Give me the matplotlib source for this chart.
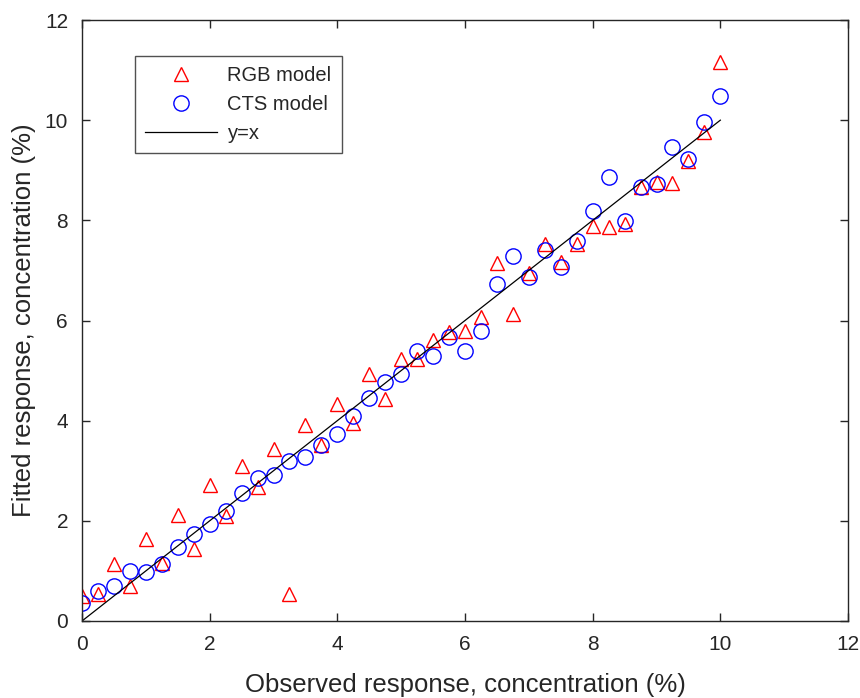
import numpy as np
import matplotlib
matplotlib.use("Agg")
import matplotlib.pyplot as plt

plt.rcParams['font.family'] = ['Liberation Sans', 'DejaVu Sans']

# observed concentrations (%)
observed = [0, 0.25, 0.5, 0.75, 1, 1.25, 1.5, 1.75, 2, 2.25,
            2.5, 2.75, 3, 3.25, 3.5, 3.75, 4, 4.25, 4.5, 4.75,
            5, 5.25, 5.5, 5.75, 6, 6.25, 6.5, 6.75, 7, 7.25,
            7.5, 7.75, 8, 8.25, 8.5, 8.75, 9, 9.25, 9.5, 9.75, 10]

# fitted values, RGB model
rgb_fit = [0.50, 0.54, 1.13, 0.70, 1.64, 1.15, 2.11, 1.43, 2.72, 2.09,
           3.09, 2.68, 3.44, 0.53, 3.91, 3.51, 4.33, 3.96, 4.93, 4.44,
           5.24, 5.24, 5.62, 5.77, 5.80, 6.07, 7.14, 6.13, 6.95, 7.53,
           7.16, 7.53, 7.88, 7.86, 7.92, 8.66, 8.76, 8.74, 9.18, 9.76, 11.17]

# fitted values, CTS model
cts_fit = [0.36, 0.60, 0.70, 0.99, 0.98, 1.13, 1.48, 1.73, 1.93, 2.20,
           2.56, 2.85, 2.91, 3.19, 3.28, 3.51, 3.74, 4.09, 4.45, 4.77,
           4.93, 5.40, 5.30, 5.68, 5.40, 5.80, 6.73, 7.28, 6.87, 7.40,
           7.07, 7.58, 8.18, 8.87, 7.98, 8.66, 8.72, 9.46, 9.22, 9.96, 10.49]

ref_line = [0, 10]

dark = '#262626'

fig = plt.figure(figsize=(8.6, 6.98), dpi=100)
ax = fig.add_axes([82 / 860, 77 / 698, 766 / 860, 601 / 698])

ax.plot(observed, rgb_fit, linestyle='none', marker='^', markersize=10.5,
        markerfacecolor='none', markeredgecolor='red', markeredgewidth=1.0,
        label='RGB model')
ax.plot(observed, cts_fit, linestyle='none', marker='o', markersize=11,
        markerfacecolor='none', markeredgecolor='blue', markeredgewidth=1.0,
        label='CTS model')
ax.plot(ref_line, ref_line, color='black', linewidth=0.9, label='y=x')

ax.set_xlim(0, 12)
ax.set_ylim(0, 12)
ax.set_xticks(range(0, 13, 2))
ax.set_yticks(range(0, 13, 2))

for s in ax.spines.values():
    s.set_color(dark)
    s.set_linewidth(1.0)
ax.tick_params(direction='in', length=6, width=1.0, colors=dark,
               labelsize=15, top=True, right=True, pad=10)

ax.set_xlabel('Observed response, concentration (%)', fontsize=18.5,
              color=dark, labelpad=14)
ax.set_ylabel('Fitted response, concentration (%)', fontsize=18.5,
              color=dark, labelpad=6)

leg = ax.legend(loc='upper left', bbox_to_anchor=(0.069, 0.94),
                borderaxespad=0, fontsize=14.5, frameon=True, fancybox=False,
                edgecolor=dark, handlelength=3.6, borderpad=0.5,
                labelspacing=0.5, handletextpad=0.5)
leg.get_frame().set_linewidth(1.0)
for t in leg.get_texts():
    t.set_color(dark)

fig.savefig('out.png', dpi=100)
